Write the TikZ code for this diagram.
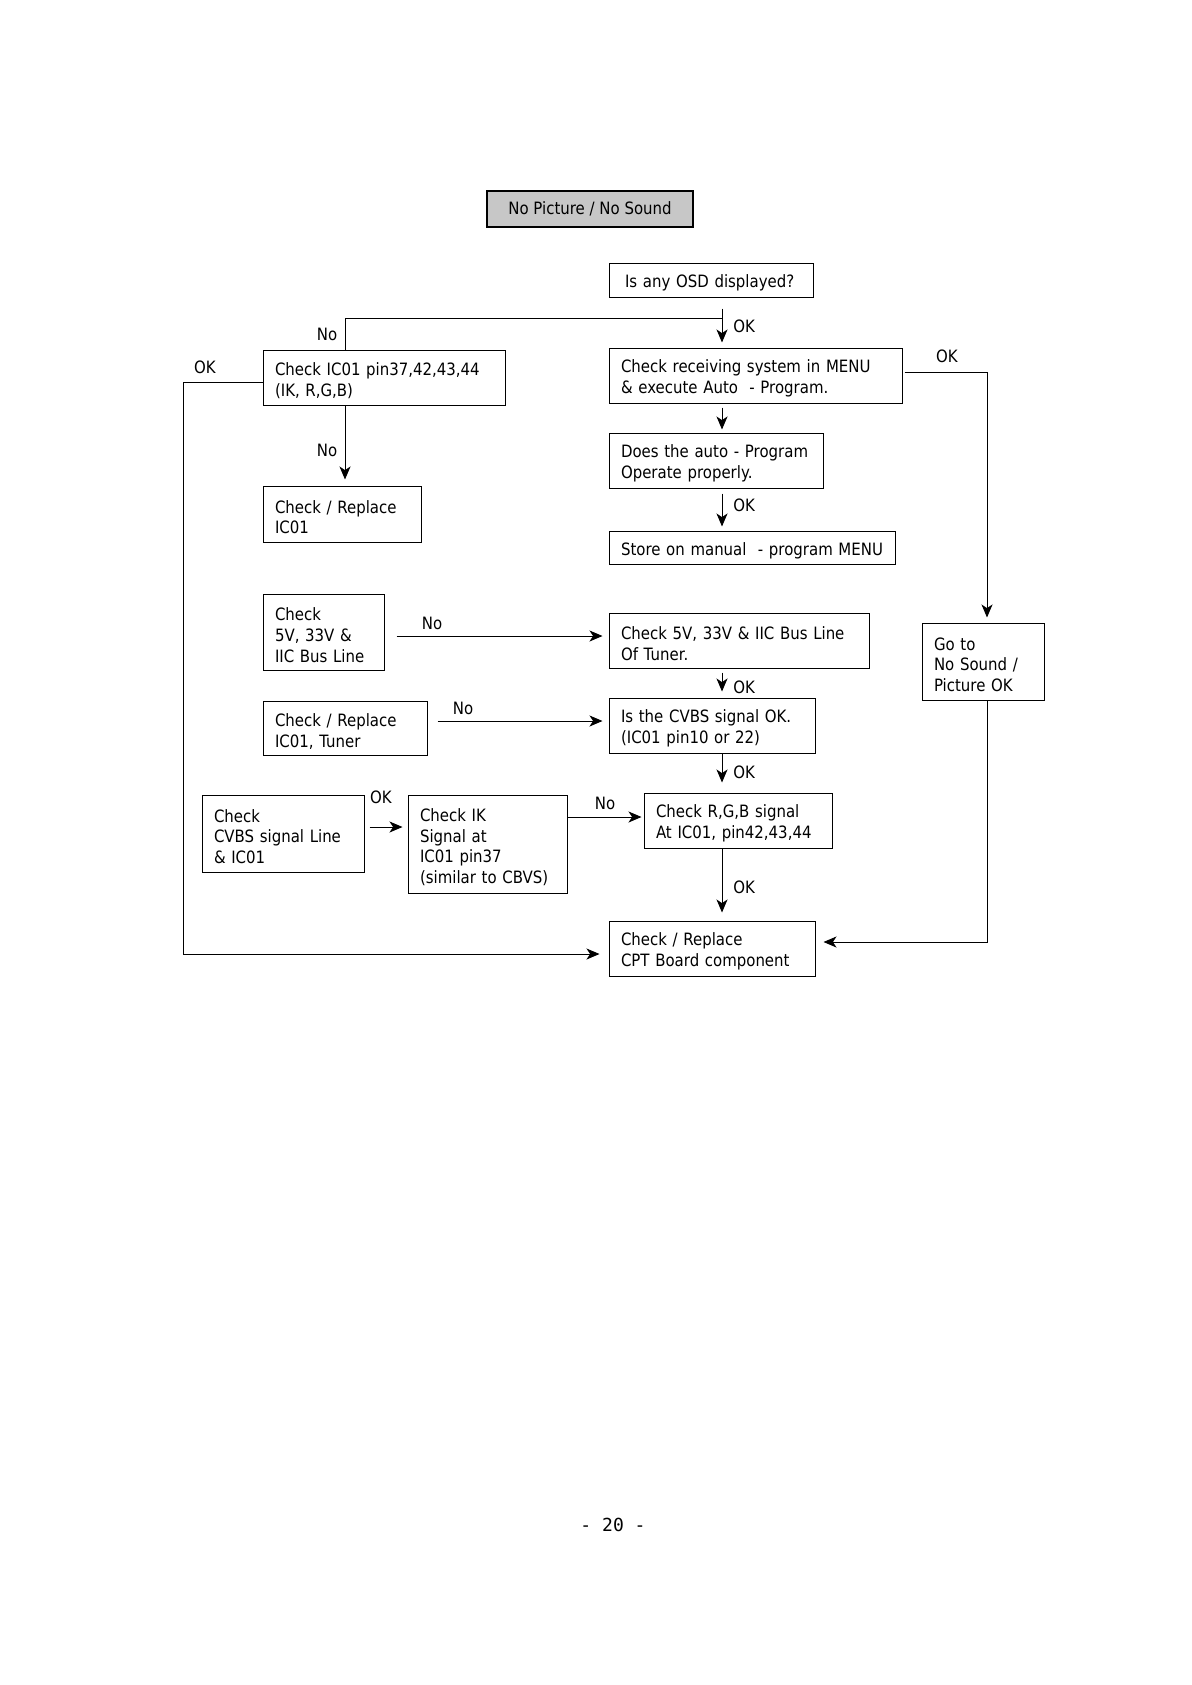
\documentclass[tikz,border=0pt]{standalone}
\usepackage{fontspec}
\setmainfont{DejaVu Sans}[FakeStretch=0.88]
\newfontfamily\pagenofont{DejaVu Sans Mono}
\usetikzlibrary{arrows.meta,calc}
\tikzset{
  bx/.style={draw, line width=0.5pt, rectangle, inner xsep=6pt, inner ysep=0pt, align=left,
    font=\fontsize{8.5}{10.4}\selectfont,
    execute at begin node={\hyphenpenalty=10000\exhyphenpenalty=10000\rule{0pt}{9.6pt}}},
  titlebox/.style={draw, line width=1.4pt, rectangle, fill=black!22, inner sep=0pt, align=center,
    font=\fontsize{8.5}{10.4}\selectfont},
  lbl/.style={inner sep=0pt, font=\fontsize{8.5}{10.4}\selectfont},
  arr/.style={line width=0.5pt, -{Stealth[length=6.5pt,width=5.5pt,inset=1.8pt]}},
  ln/.style={line width=0.5pt}
}
\begin{document}
\begin{tikzpicture}[x=0.5pt,y=-0.5pt]
\useasboundingbox (0,0) rectangle (1192,1685);
\fill[white] (0,0) rectangle (1192,1685);

\coordinate (colM) at (722,0);
\coordinate (colR) at (987,0);
\coordinate (colL) at (183,0);
\coordinate (colA) at (345,0);

% boxes
\node[titlebox, minimum width=103pt, minimum height=18pt] (title) at (590,209) {No Picture / No Sound};
\node[bx, inner xsep=8pt, text width=86pt, minimum height=17pt] (osd) at (711,280) {Is any OSD displayed?};
\node[bx, text width=109pt, minimum height=27.5pt] (ic01chk) at (384,377.5) {Check IC01 pin37,42,43,44\\(IK, R,G,B)};
\node[bx, text width=134.5pt, minimum height=27.5pt] (recv) at (755.5,375.5) {Check receiving system in MENU\\\& execute Auto\ \ - Program.};
\node[bx, text width=95pt, minimum height=27.5pt] (auto) at (716,460.5) {\mbox{Does the auto\ - Program}\\Operate properly.};
\node[bx, text width=131pt, minimum height=16.5pt] (store) at (752,547.5) {Store on manual\ \ - program MENU};
\node[bx, text width=67pt, minimum height=28pt] (repic01) at (342,514) {Check / Replace\\IC01};
\node[bx, text width=48.5pt, minimum height=38pt] (chk5v) at (323.5,632) {Check\\5V, 33V \&\\IIC Bus Line};
\node[bx, text width=118pt, minimum height=27.5pt] (tuner5v) at (739,640.5) {Check 5V, 33V \& IIC Bus Line\\Of Tuner.};
\node[bx, text width=49pt, minimum height=38.5pt] (goto) at (983,661.5) {Go to\\No Sound /\\Picture OK};
\node[bx, text width=70pt, minimum height=27pt] (reptuner) at (345,728) {Check / Replace\\IC01, Tuner};
\node[bx, text width=91pt, minimum height=27.5pt] (cvbsok) at (712,725.5) {Is the CVBS signal OK.\\(IC01 pin10 or 22)};
\node[bx, text width=69pt, minimum height=38.5pt] (cvbsline) at (283,833.5) {Check\\CVBS signal Line\\\& IC01};
\node[bx, text width=67.5pt, minimum height=49pt] (ik) at (487.5,844) {Check IK\\Signal at\\IC01 pin37\\(similar to CBVS)};
\node[bx, text width=82pt, minimum height=27.5pt] (rgb) at (738,820.5) {Check R,G,B signal\\At IC01, pin42,43,44};
\node[bx, text width=91pt, minimum height=27.5pt] (cpt) at (712,948.5) {Check / Replace\\CPT Board component};

% labels
\node[lbl] (lNoA) at (327,334) {No};
\node[lbl] (lOKA) at (205,367) {OK};
\node[lbl, anchor=west] (lOKB) at (733,326) {OK};
\node[lbl] (lOKC) at (947,356) {OK};
\node[lbl, anchor=west] (lOKD) at (733,505) {OK};
\node[lbl] (lNoB) at (327,450) {No};
\node[lbl] (lNoC) at (432,623) {No};
\node[lbl, anchor=west] (lOKE) at (733,687) {OK};
\node[lbl] (lNoD) at (463,708) {No};
\node[lbl, anchor=west] (lOKF) at (733,772) {OK};
\node[lbl] (lOKG) at (381,797) {OK};
\node[lbl] (lNoE) at (605,803) {No};
\node[lbl, anchor=west] (lOKH) at (733,887) {OK};
\node[inner sep=0pt, font=\pagenofont\fontsize{9}{11}\selectfont] (pageno) at (613,1525) {- 20 -};

% connectors
\draw[arr] ($(osd.south -| colM)+(0,11)$) -- ($(recv.north -| colM)+(0,-5)$);
\draw[ln] ($(osd.south -| colM)+(0,21)$) -| (ic01chk.north -| colA);
\draw[arr] ($(recv.south -| colM)+(0,4)$) -- ($(auto.north -| colM)+(0,-3)$);
\draw[arr] ($(auto.south -| colM)+(0,5)$) -- ($(store.north -| colM)+(0,-4)$);
\draw[arr] ($(recv.east)+(2,-3.5)$) -| ($(goto.north -| colR)+(0,-5)$);
\draw[arr] (goto.south -| colR) |- ($(cpt.east)+(8,-6.5)$);
\draw[arr] ($(chk5v.east)+(12,4)$) -- ($(tuner5v.west)+(-6,-4.5)$);
\draw[arr] ($(reptuner.east)+(10,-7)$) -- ($(cvbsok.west)+(-6,-4.5)$);
\draw[arr] ($(tuner5v.south -| colM)+(0,4)$) -- ($(cvbsok.north -| colM)+(0,-6)$);
\draw[arr] (cvbsok.south -| colM) -- ($(rgb.north -| colM)+(0,-10)$);
\draw[arr] ($(cvbsline.east)+(5,-6.5)$) -- ($(ik.west)+(-5,-17)$);
\draw[arr] ($(ik.east)+(0,-27)$) -- ($(rgb.west)+(-2,-3.5)$);
\draw[arr] (rgb.south -| colM) -- ($(cpt.north -| colM)+(0,-8)$);
\draw[arr] (ic01chk.south -| colA) -- ($(repic01.north -| colA)+(0,-6)$);
\draw[arr] ($(ic01chk.west)+(0,4.5)$) -| ($(cpt.west -| colL)+(0,5.5)$) -- ($(cpt.west)+(-9,5.5)$);
\end{tikzpicture}
\end{document}
